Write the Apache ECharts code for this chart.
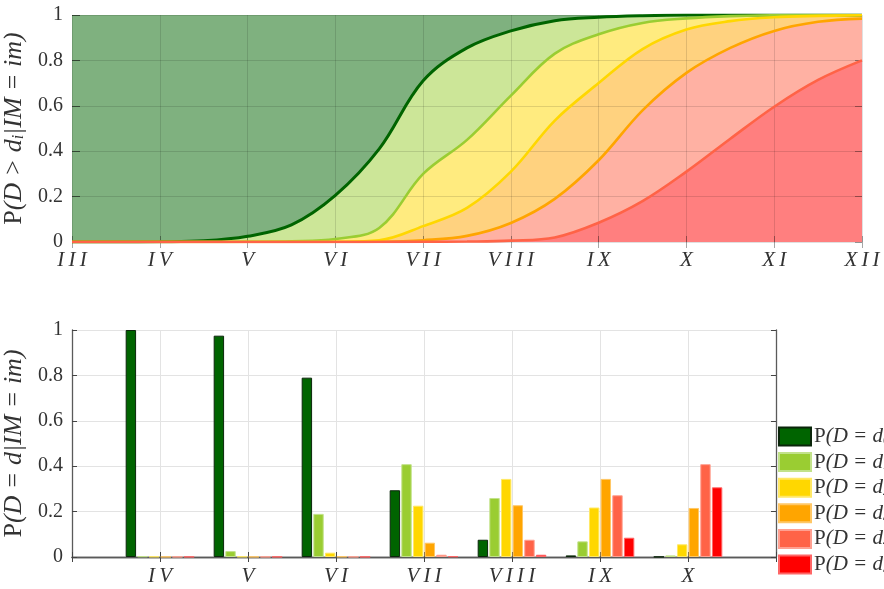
<!DOCTYPE html>
<html>
<head>
<meta charset="utf-8">
<script src="https://cdn.jsdelivr.net/npm/echarts@6/dist/echarts.min.js"></script>
<style>
html,body{margin:0;padding:0;background:#fff;}
#chart{width:884px;height:589px;}
</style>
</head>
<body>
<div id="chart"></div>
<script>
// ---------- DATA ----------
// Top panel: intensity levels (x) and exceedance probabilities P(D > d_i | IM = im)
const imPoints = [3, 3.5, 4, 4.5, 5, 5.5, 6, 6.5, 7, 7.5, 8, 8.5, 9, 9.5, 10, 10.5, 11, 11.5, 12];
const exceedD0 = [0, 0, 0.001, 0.005, 0.025, 0.075, 0.205, 0.41, 0.71, 0.855, 0.93, 0.975, 0.99, 0.997, 1, 1, 1, 1, 1];
const exceedD1 = [0, 0, 0, 0, 0.001, 0.003, 0.013, 0.062, 0.30, 0.45, 0.645, 0.83, 0.915, 0.965, 0.985, 0.995, 0.999, 1, 1];
const exceedD2 = [0, 0, 0, 0, 0, 0, 0.001, 0.008, 0.07, 0.15, 0.31, 0.535, 0.70, 0.85, 0.936, 0.973, 0.99, 0.996, 0.999];
const exceedD3 = [0, 0, 0, 0, 0, 0, 0, 0.001, 0.008, 0.027, 0.084, 0.19, 0.36, 0.58, 0.745, 0.855, 0.93, 0.97, 0.984];
const exceedD4 = [0, 0, 0, 0, 0, 0, 0, 0, 0.001, 0.002, 0.006, 0.02, 0.085, 0.18, 0.31, 0.455, 0.596, 0.714, 0.80];
const topTickLabels = ['III', 'IV', 'V', 'VI', 'VII', 'VIII', 'IX', 'X', 'XI', 'XII'];

// Bottom panel: P(D = d | IM = im) for intensity levels IV..X
const bottomTickLabels = ['IV', 'V', 'VI', 'VII', 'VIII', 'IX', 'X'];
const probD0 = [1.0, 0.975, 0.79, 0.294, 0.076, 0.007, 0.001];
const probD1 = [0.003, 0.026, 0.19, 0.409, 0.26, 0.069, 0.007];
const probD2 = [0.002, 0.002, 0.019, 0.226, 0.344, 0.218, 0.056];
const probD3 = [0.001, 0.001, 0.002, 0.063, 0.228, 0.344, 0.216];
const probD4 = [0.001, 0.001, 0.001, 0.01, 0.076, 0.272, 0.409];
const probD5 = [0.001, 0.001, 0.001, 0.003, 0.01, 0.085, 0.307];
const legendNames = ['P(D = d0|IM = im)', 'P(D = d1|IM = im)', 'P(D = d2|IM = im)',
                     'P(D = d3|IM = im)', 'P(D = d4|IM = im)', 'P(D = d5|IM = im)'];

// ---------- STYLE ----------
const FONT = "'Liberation Serif', 'DejaVu Serif', serif";
const TXT = '#333333';
const lineColors = ['#006400', '#9acd32', '#ffd700', '#ffa500', '#ff6347'];
const fillColors = ['#cce698', '#ffeb7f', '#ffd27f', '#ffb1a3', '#ff7f7f'];
const barColors = ['#006400', '#9acd32', '#ffd700', '#ffa500', '#ff6347', '#ff0000'];
const barBorders = ['#0b260b', '#c2e28a', '#ffe866', '#ffc766', '#ffa091', '#ff6666'];

function spaced(s) { return s.split('').join('\u2009'); }

const exceed = [exceedD0, exceedD1, exceedD2, exceedD3, exceedD4];
const probs = [probD0, probD1, probD2, probD3, probD4, probD5];
const bottomCats = [''].concat(bottomTickLabels, ['']);

const SMOOTH = 0.36;
const series = [];
// filled bands (top panel)
exceed.forEach((arr, i) => {
  series.push({
    type: 'line', xAxisIndex: 0, yAxisIndex: 0, z: 1,
    data: imPoints.map((x, k) => [x, arr[k]]),
    smooth: SMOOTH, showSymbol: false, silent: true,
    lineStyle: { width: 0 },
    areaStyle: { color: fillColors[i], opacity: 1 }
  });
});
// curves (top panel)
exceed.forEach((arr, i) => {
  series.push({
    type: 'line', xAxisIndex: 0, yAxisIndex: 0, z: 3,
    data: imPoints.map((x, k) => [x, arr[k]]),
    smooth: SMOOTH, showSymbol: false, silent: true,
    lineStyle: { width: i === 0 ? 3 : 2.6, color: lineColors[i] }
  });
});
// bars (bottom panel)
probs.forEach((arr, i) => {
  series.push({
    type: 'bar', name: legendNames[i], xAxisIndex: 2, yAxisIndex: 2,
    data: [null].concat(arr, [null]),
    barWidth: 10.4, barGap: '12%',
    itemStyle: { color: barColors[i], borderColor: barBorders[i], borderWidth: 1 }
  });
});

const tickLbl = { fontFamily: FONT, fontSize: 20, color: TXT };
const catLbl = { fontFamily: FONT, fontSize: 21, fontStyle: 'italic', color: TXT };
const nameStyle = {
  fontFamily: FONT, fontSize: 26, fontStyle: 'italic', color: TXT,
  rich: {
    r: { fontFamily: FONT, fontSize: 26, fontStyle: 'normal', color: TXT },
    s: { fontFamily: FONT, fontSize: 16, fontStyle: 'italic', color: TXT, verticalAlign: 'bottom' }
  }
};

const option = {
  animation: false,
  backgroundColor: '#ffffff',
  grid: [
    { left: 72, right: 22, top: 15, bottom: 347, show: true, backgroundColor: '#7fb17f', borderWidth: 0,
      outerBoundsMode: 'none', containLabel: false },
    { left: 72, right: 108, top: 330, bottom: 32, outerBoundsMode: 'none', containLabel: false }
  ],
  xAxis: [
    { type: 'value', gridIndex: 0, min: 3, max: 12, interval: 1, z: 2,
      axisLine: { show: false },
      axisTick: { show: true, inside: true, length: 6, lineStyle: { color: 'rgba(0,0,0,0.35)' } },
      splitLine: { show: true, lineStyle: { color: 'rgba(0,0,0,0.12)', width: 1 } },
      axisLabel: Object.assign({ margin: 8, formatter: v => spaced(topTickLabels[Math.round(v) - 3] || '') }, catLbl) },
    { type: 'value', gridIndex: 0, position: 'top', min: 3, max: 12, interval: 1, z: 2,
      axisLine: { show: false },
      axisTick: { show: true, inside: true, length: 6, lineStyle: { color: 'rgba(0,0,0,0.35)' } },
      splitLine: { show: false }, axisLabel: { show: false } },
    { type: 'category', gridIndex: 1, data: bottomCats, boundaryGap: false,
      axisLine: { show: true, lineStyle: { color: '#5a5a5a', width: 1.3 } },
      axisTick: { show: true, inside: true, length: 5, lineStyle: { color: '#444' } },
      splitLine: { show: true, lineStyle: { color: '#e3e3e3', width: 1 } },
      axisLabel: Object.assign({ margin: 9, interval: 0, formatter: v => spaced(v) }, catLbl) },
    { type: 'category', gridIndex: 1, data: bottomCats, boundaryGap: false, position: 'top',
      axisLine: { show: true, lineStyle: { color: '#5a5a5a', width: 1.3 } },
      axisTick: { show: true, inside: true, length: 5, interval: 0, lineStyle: { color: '#444' } },
      splitLine: { show: false }, axisLabel: { show: false } }
  ],
  yAxis: [
    { type: 'value', gridIndex: 0, min: 0, max: 1, interval: 0.2, z: 2,
      name: '{r|P}(D > d{s|i}|IM = im)',
      nameLocation: 'middle', nameGap: 38, nameTextStyle: nameStyle,
      axisLine: { show: false },
      axisTick: { show: true, inside: true, length: 8, lineStyle: { color: 'rgba(0,0,0,0.55)' } },
      splitLine: { show: true, lineStyle: { color: 'rgba(0,0,0,0.12)', width: 1 } },
      axisLabel: Object.assign({ margin: 9 }, tickLbl) },
    { type: 'value', gridIndex: 0, position: 'right', min: 0, max: 1, interval: 0.2, z: 2,
      axisLine: { show: false },
      axisTick: { show: true, inside: true, length: 7, lineStyle: { color: 'rgba(0,0,0,0.35)' } },
      splitLine: { show: false }, axisLabel: { show: false } },
    { type: 'value', gridIndex: 1, min: 0, max: 1, interval: 0.2,
      name: '{r|P}(D = d|IM = im)',
      nameLocation: 'middle', nameGap: 38, nameTextStyle: nameStyle,
      axisLine: { show: true, lineStyle: { color: '#5a5a5a', width: 1.3 } },
      axisTick: { show: true, inside: true, length: 5, lineStyle: { color: '#444' } },
      splitLine: { show: true, lineStyle: { color: '#e3e3e3', width: 1 } },
      axisLabel: Object.assign({ margin: 9 }, tickLbl) },
    { type: 'value', gridIndex: 1, position: 'right', min: 0, max: 1, interval: 0.2,
      axisLine: { show: true, lineStyle: { color: '#5a5a5a', width: 1.3 } },
      axisTick: { show: true, inside: true, length: 5, lineStyle: { color: '#444' } },
      splitLine: { show: false }, axisLabel: { show: false } }
  ],
  legend: {
    data: legendNames, orient: 'vertical', left: 778, top: 426,
    itemWidth: 32, itemHeight: 18, itemGap: 4.6, icon: 'rect', padding: 0,
    selectedMode: false,
    formatter: n => '{r|P}' + n.slice(1).replace(/d(\d)\|/, 'd{s|$1}|'),
    textStyle: { fontFamily: FONT, fontSize: 21, fontStyle: 'italic', color: TXT, padding: [0, 0, 0, -2],
      rich: {
        r: { fontFamily: FONT, fontSize: 21, fontStyle: 'normal', color: TXT },
        s: { fontFamily: FONT, fontSize: 14, fontStyle: 'italic', color: TXT, verticalAlign: 'bottom' }
      } }
  },
  series: series
};

const chart = echarts.init(document.getElementById('chart'), null, { renderer: 'canvas' });
chart.setOption(option);
</script>
</body>
</html>
